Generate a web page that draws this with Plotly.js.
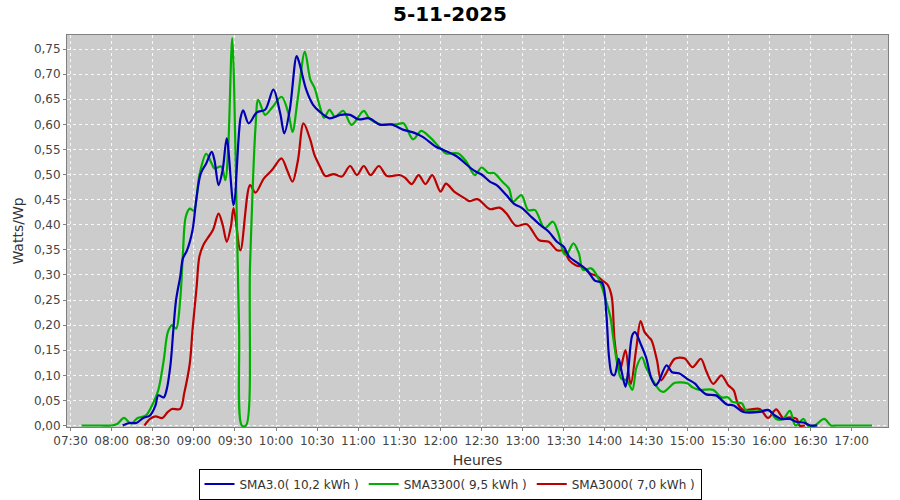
<!DOCTYPE html>
<html>
<head>
<meta charset="utf-8">
<script src="https://cdn.plot.ly/plotly-3.0.1.min.js"></script>
<style>html,body{margin:0;padding:0;background:#fff;}#chart{width:900px;height:500px;}</style>
</head>
<body>
<div id="chart"></div>
<script>
const DAY = "2025-11-05 ";
const chartTitle = "5-11-2025";
const seriesNames = ["SMA3.0( 10,2 kWh )", "SMA3300( 9,5 kWh )", "SMA3000( 7,0 kWh )"];

// SMA3.0 (blue)
const blueTimes = ["08:08","08:13","08:18","08:23","08:28","08:32","08:34","08:38","08:40","08:43","08:45","08:47","08:50","08:52","08:55","08:59","09:02","09:05","09:09","09:13","09:15","09:18","09:21","09:24","09:29","09:34","09:36","09:40","09:46","09:52","09:58","10:03","10:06","10:10","10:15","10:17","10:22","10:27","10:32","10:39","10:47","10:54","11:00","11:08","11:16","11:24","11:33","11:40","11:47","11:57","12:02","12:12","12:19","12:25","12:30","12:36","12:41","12:48","12:54","12:59","13:05","13:13","13:19","13:25","13:30","13:34","13:40","13:47","13:53","13:58","14:01","14:03","14:05","14:07","14:10","14:12","14:15","14:17","14:20","14:22","14:26","14:30","14:34","14:37","14:39","14:45","14:49","14:54","15:00","15:06","15:09","15:14","15:21","15:29","15:34","15:41","15:53","15:59","16:04","16:09","16:15","16:20","16:25","16:30","16:35"];
const blueValues = [0,0.005,0.005,0.015,0.02,0.04,0.06,0.056,0.07,0.123,0.19,0.25,0.296,0.333,0.349,0.389,0.456,0.502,0.522,0.545,0.529,0.479,0.509,0.572,0.439,0.612,0.628,0.602,0.624,0.629,0.669,0.622,0.582,0.629,0.736,0.722,0.669,0.639,0.625,0.612,0.619,0.619,0.61,0.612,0.599,0.6,0.589,0.584,0.575,0.555,0.549,0.536,0.52,0.507,0.5,0.486,0.479,0.459,0.441,0.434,0.419,0.399,0.386,0.366,0.356,0.336,0.324,0.309,0.288,0.284,0.223,0.136,0.103,0.1,0.133,0.11,0.077,0.11,0.18,0.186,0.163,0.136,0.093,0.08,0.086,0.12,0.106,0.104,0.093,0.083,0.073,0.062,0.06,0.042,0.04,0.027,0.027,0.031,0.02,0.013,0.013,0.007,0.006,0,0];

// SMA3300 (green)
const greenTimes = ["07:38","07:45","07:52","08:00","08:04","08:09","08:14","08:19","08:25","08:30","08:34","08:38","08:41","08:44","08:47","08:50","08:52","08:54","08:57","09:00","09:04","09:09","09:13","09:15","09:20","09:23","09:25","09:28","09:31","09:33","09:35","09:38","09:41","09:45","09:47","09:52","09:57","10:04","10:09","10:12","10:16","10:21","10:25","10:28","10:32","10:35","10:39","10:43","10:49","10:55","11:04","11:08","11:16","11:28","11:33","11:40","11:46","11:52","12:00","12:04","12:13","12:19","12:25","12:30","12:35","12:39","12:45","12:50","12:53","12:59","13:04","13:09","13:16","13:22","13:26","13:30","13:32","13:37","13:41","13:44","13:50","13:56","14:00","14:04","14:06","14:09","14:12","14:16","14:20","14:23","14:27","14:30","14:35","14:40","14:43","14:47","14:51","15:00","15:04","15:09","15:19","15:25","15:30","15:33","15:40","15:43","15:58","16:00","16:05","16:10","16:15","16:19","16:25","16:28","16:33","16:40","16:45","16:49","17:00","17:15"];
const greenValues = [0,0,0,0,0.003,0.015,0.004,0.015,0.02,0.043,0.07,0.13,0.186,0.2,0.193,0.25,0.343,0.415,0.432,0.428,0.499,0.541,0.522,0.512,0.516,0.489,0.55,0.772,0.456,0.19,0,0,0.32,0.595,0.649,0.619,0.633,0.655,0.622,0.585,0.655,0.745,0.689,0.673,0.635,0.613,0.629,0.615,0.627,0.599,0.627,0.612,0.6,0.6,0.602,0.57,0.587,0.575,0.552,0.542,0.542,0.525,0.499,0.514,0.503,0.503,0.486,0.472,0.446,0.459,0.429,0.429,0.393,0.406,0.383,0.343,0.34,0.363,0.343,0.31,0.313,0.289,0.256,0.216,0.176,0.123,0.093,0.09,0.071,0.116,0.136,0.116,0.09,0.07,0.067,0.076,0.085,0.084,0.076,0.071,0.071,0.056,0.056,0.047,0.044,0.03,0.03,0.03,0.013,0.013,0.029,0,0.013,0,0,0.013,0,0,0,0];

// SMA3000 (red)
const redTimes = ["08:24","08:28","08:32","08:37","08:41","08:44","08:50","08:53","08:57","08:59","09:02","09:04","09:07","09:10","09:14","09:18","09:21","09:24","09:27","09:29","09:34","09:41","09:45","09:51","09:57","10:04","10:08","10:12","10:16","10:20","10:25","10:28","10:32","10:36","10:42","10:48","10:54","10:59","11:04","11:09","11:15","11:21","11:30","11:34","11:39","11:44","11:49","11:54","12:00","12:04","12:10","12:18","12:21","12:27","12:36","12:43","12:48","12:55","13:03","13:12","13:19","13:25","13:30","13:34","13:39","13:44","13:49","13:54","13:59","14:02","14:05","14:07","14:10","14:11","14:15","14:18","14:19","14:23","14:26","14:29","14:32","14:34","14:38","14:41","14:45","14:51","14:58","15:04","15:10","15:14","15:19","15:25","15:30","15:34","15:37","15:41","15:53","15:59","16:05","16:10","16:15","16:20","16:22","16:26"];
const redValues = [0,0.013,0.018,0.015,0.027,0.033,0.033,0.065,0.123,0.19,0.276,0.336,0.36,0.373,0.39,0.422,0.4,0.366,0.396,0.433,0.349,0.479,0.464,0.492,0.509,0.532,0.509,0.486,0.529,0.602,0.569,0.539,0.516,0.497,0.501,0.496,0.517,0.499,0.517,0.499,0.517,0.497,0.499,0.494,0.481,0.499,0.481,0.499,0.466,0.482,0.466,0.452,0.447,0.451,0.431,0.434,0.423,0.398,0.401,0.369,0.366,0.349,0.348,0.329,0.319,0.316,0.303,0.298,0.287,0.28,0.256,0.17,0.116,0.11,0.15,0.09,0.083,0.156,0.208,0.186,0.176,0.17,0.13,0.09,0.106,0.133,0.134,0.116,0.133,0.108,0.083,0.1,0.08,0.07,0.043,0.031,0.033,0.015,0.032,0.015,0.016,0.013,0,0];

const yTickVals = [0,0.05,0.1,0.15,0.2,0.25,0.3,0.35,0.4,0.45,0.5,0.55,0.6,0.65,0.7,0.75];

const toX = arr => arr.map(t => DAY + t);

function mk(name, times, vals, color, rank) {
  return {
    type: "scatter", mode: "lines", name: name,
    x: toX(times), y: vals,
    line: {color: color, width: 2.2, shape: "spline", smoothing: 0.9},
    legendrank: rank,
    cliponaxis: true
  };
}

const data = [
  mk(seriesNames[2], redTimes, redValues, "#bb0000", 3),
  mk(seriesNames[1], greenTimes, greenValues, "#00b000", 2),
  mk(seriesNames[0], blueTimes, blueValues, "#0000b4", 1)
];

const gridStyle = {showgrid: true, gridcolor: "rgba(255,255,255,0.85)", griddash: "3px,3px", gridwidth: 1};

const layout = {
  width: 900, height: 500,
  paper_bgcolor: "#ffffff",
  plot_bgcolor: "#cccccc",
  separators: ",.",
  margin: {l: 67, r: 12, t: 35, b: 73},
  font: {family: "DejaVu Sans, sans-serif", size: 12, color: "#444444"},
  title: {text: "<b>" + chartTitle + "</b>", x: 0.5, xref: "container", y: 0.972, yref: "container", yanchor: "middle",
          font: {family: "DejaVu Sans, sans-serif", size: 20, color: "#000000"}},
  xaxis: Object.assign({
    type: "date",
    range: [DAY + "07:27:24", DAY + "17:26:36"],
    tick0: DAY + "07:30", dtick: 1800000,
    tickformat: "%H:%M",
    ticks: "outside", ticklen: 3, tickcolor: "#808080",
    showline: true, linecolor: "#808080", linewidth: 1, mirror: true,
    zeroline: false,
    tickfont: {size: 12, color: "#444444"},
    title: {text: "Heures", font: {size: 14, color: "#333333"}, standoff: 14}
  }, gridStyle),
  yaxis: Object.assign({
    range: [-0.003, 0.778],
    tickvals: yTickVals,
    tickformat: ".2f",
    ticks: "outside", ticklen: 3, tickcolor: "#808080",
    showline: true, linecolor: "#808080", linewidth: 1, mirror: true,
    zeroline: false,
    tickfont: {size: 12, color: "#444444"},
    title: {text: "Watts/Wp", font: {size: 14, color: "#333333"}, standoff: 6}
  }, gridStyle),
  showlegend: true,
  legend: {
    orientation: "h",
    xref: "container", x: 0.5, xanchor: "center",
    yref: "container", y: 0.032, yanchor: "middle",
    bordercolor: "#000000", borderwidth: 1,
    bgcolor: "#ffffff",
    font: {size: 12, color: "#333333"},
    itemwidth: 30,
    traceorder: "normal",
    tracegroupgap: 0
  }
};

Plotly.newPlot("chart", data, layout, {displayModeBar: false, staticPlot: true});
</script>
</body>
</html>
